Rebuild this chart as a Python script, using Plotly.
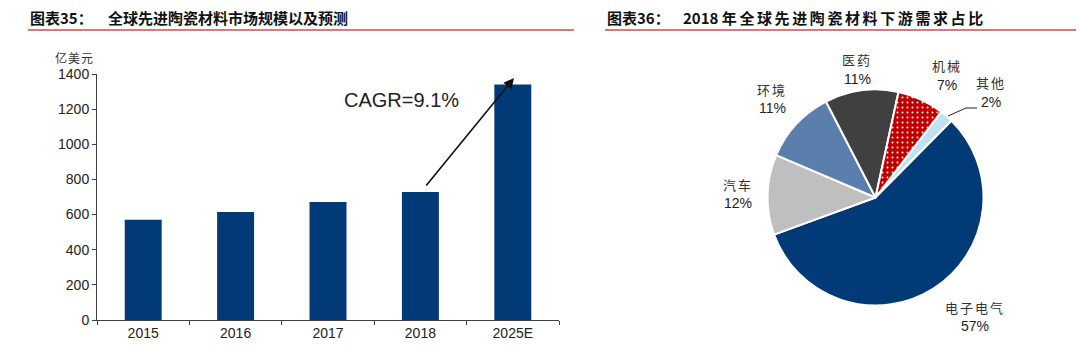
import plotly.graph_objects as go

# ---- data ----
years = ["2015", "2016", "2017", "2018", "2025E"]
market_size = [570, 615, 672, 728, 1340]
y_ticks = [0, 200, 400, 600, 800, 1000, 1200, 1400]

pie_labels = ["其他", "电子电气", "汽车", "环境", "医药", "机械"]
pie_values = [2, 57, 12, 11, 11, 7]
pie_pct_text = ["2%", "57%", "12%", "11%", "11%", "7%"]

W, H = 1080, 357
def px(x):
    return x / W
def py(y):
    return (H - y) / H

NAVY = "#023A78"
PIE_COLORS = ["#BDE2F2", "#023A78", "#BFBFBF", "#5B7FAD", "#404040", "#C00000"]
fig = go.Figure()

fig.add_trace(go.Bar(
    x=years, y=market_size, marker=dict(color=NAVY, line=dict(width=0)),
    width=0.4, xaxis="x", yaxis="y", showlegend=False,
))

fig.add_trace(go.Pie(
    labels=pie_labels, values=pie_values, sort=False, direction="clockwise",
    rotation=37.5, textinfo="none", showlegend=False, automargin=False,
    domain=dict(x=[px(767.5), px(983.5)], y=[py(305.5), py(89.5)]),
    marker=dict(
        colors=PIE_COLORS,
        line=dict(color="white", width=2),
        pattern=dict(shape=["", "", "", "", "", "."], fgcolor="white",
                     bgcolor=PIE_COLORS, size=5, solidity=0.12, fillmode="replace"),
    ),
))

AX = "#404040"
fig.update_layout(
    width=W, height=H, margin=dict(l=0, r=0, t=0, b=0, autoexpand=False),
    paper_bgcolor="white", plot_bgcolor="white",
    font=dict(family="Liberation Sans, Arial, sans-serif", color="#222"),
    xaxis=dict(domain=[px(97), px(559)], type="category", showline=True, linecolor=AX,
               linewidth=1, ticks="outside", ticklen=4, tickcolor=AX, tickson="boundaries",
               tickfont=dict(size=14, color="#222"), showgrid=False, zeroline=False,
               automargin=False),
    yaxis=dict(domain=[py(320), py(74)], range=[0, 1400], tickvals=y_ticks, showline=True,
               linecolor=AX, linewidth=1, ticks="outside", ticklen=4, tickcolor=AX,
               tickfont=dict(size=14, color="#222"), showgrid=False, zeroline=False,
               automargin=False),
    bargap=0.6,
)

ann = []
cjk = "Noto Sans CJK SC"
# titles
ann.append(dict(x=px(28), y=py(17), xref="paper", yref="paper", xanchor="left", yanchor="middle",
                text="<b>图表35：</b>", showarrow=False, font=dict(family=cjk, size=15, color="#111")))
ann.append(dict(x=px(106), y=py(17), xref="paper", yref="paper", xanchor="left", yanchor="middle",
                text="<b>全球先进陶瓷材料市场规模以及预测</b>", showarrow=False,
                font=dict(family=cjk, size=15, color="#111")))
ann.append(dict(x=px(605), y=py(17), xref="paper", yref="paper", xanchor="left", yanchor="middle",
                text="<b>图表36：</b>", showarrow=False, font=dict(family=cjk, size=15, color="#111")))
ann.append(dict(x=px(681), y=py(17), xref="paper", yref="paper", xanchor="left", yanchor="middle",
                text="<b>2018 <span style='letter-spacing:2.6px'>年全球先进陶瓷材料下游需求占比</span></b>",
                showarrow=False, font=dict(family=cjk, size=15, color="#111")))
# unit
ann.append(dict(x=px(74), y=py(58), xref="paper", yref="paper", xanchor="center", yanchor="middle",
                text="<span style='letter-spacing:1px'>亿美元</span>", showarrow=False,
                font=dict(family=cjk, size=12, color="#333")))
# CAGR
ann.append(dict(x=px(401), y=py(100), xref="paper", yref="paper", xanchor="center", yanchor="middle",
                text="CAGR=9.1%", showarrow=False,
                font=dict(family="Liberation Sans, Arial", size=20, color="#222")))
ann.append(dict(x=px(514), y=py(78), xref="paper", yref="paper", ax=-89, ay=109,
                text="", showarrow=True, arrowhead=2, arrowsize=1.3, arrowwidth=1.6,
                arrowcolor="#111", standoff=0, startstandoff=0))

# pie labels
label_pos = {
    "其他": (991, 83, 102),
    "电子电气": (975, 307, 326),
    "汽车": (738, 185, 203),
    "环境": (772, 89, 108),
    "医药": (857, 60, 79),
    "机械": (947, 65, 85),
}
for lab, pct in zip(pie_labels, pie_pct_text):
    x, y1, y2 = label_pos[lab]
    ann.append(dict(x=px(x), y=py(y1), xref="paper", yref="paper", xanchor="center", yanchor="middle",
                    text=f"<span style='letter-spacing:2px'>{lab}</span>", showarrow=False,
                    font=dict(family=cjk, size=13, color="#333")))
    ann.append(dict(x=px(x), y=py(y2), xref="paper", yref="paper", xanchor="center", yanchor="middle",
                    text=pct, showarrow=False,
                    font=dict(family="Liberation Sans, Arial", size=14, color="#222")))

fig.update_layout(annotations=ann)

shapes = [
    dict(type="line", xref="paper", yref="paper", x0=px(28), x1=px(574), y0=py(30), y1=py(30),
         line=dict(color="#C8504A", width=1.5)),
    dict(type="line", xref="paper", yref="paper", x0=px(605), x1=px(1076), y0=py(30), y1=py(30),
         line=dict(color="#C8504A", width=1.5)),
    dict(type="path", xref="paper", yref="paper",
         path=f"M {px(948)} {py(116)} L {px(966)} {py(108)} L {px(977)} {py(108)}",
         line=dict(color="#222", width=1)),
]
fig.update_layout(shapes=shapes)

fig.write_html("out.html", config={"displayModeBar": False},
               post_script="document.body.style.margin='0';")
